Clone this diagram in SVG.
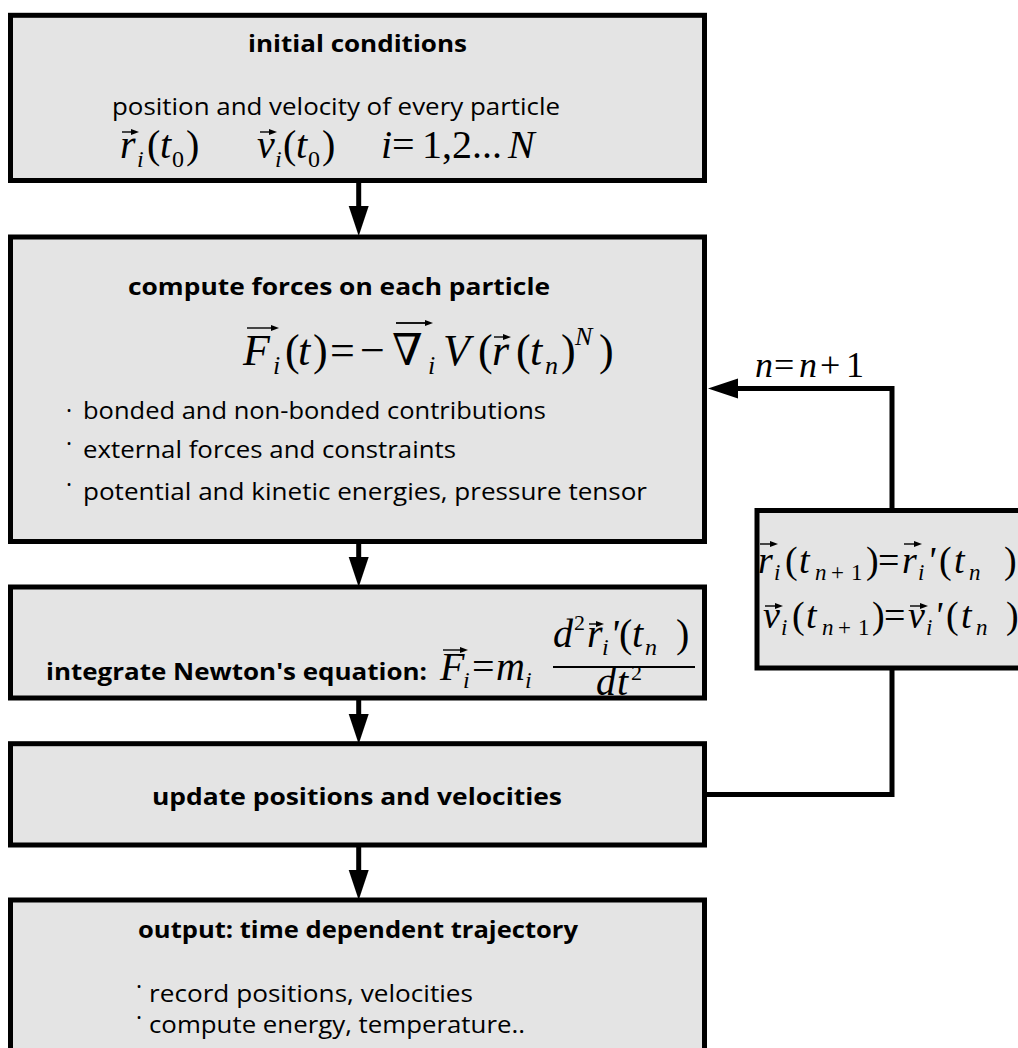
<svg xmlns="http://www.w3.org/2000/svg" width="1018" height="1048" viewBox="0 0 1018 1048">
<style>
.box{fill:#e4e4e4;stroke:#000;stroke-width:5}
.h{font-family:"Open Sans","Liberation Sans",sans-serif;font-weight:700;font-size:23px;fill:#000}
.t{font-family:"Open Sans","Liberation Sans",sans-serif;font-size:23px;fill:#000}
.m{font-family:"Liberation Serif","DejaVu Serif",serif;fill:#000}
.i{font-style:italic}
.conn{fill:none;stroke:#000;stroke-width:5}
.vec{stroke:#000;stroke-width:1.4;fill:none}
.bar{stroke:#000;stroke-width:2}
</style>
<defs>
<marker id="ah" markerUnits="userSpaceOnUse" markerWidth="30" markerHeight="22" viewBox="0 0 30 22" refX="0" refY="11" orient="auto">
<path d="M0,1 L30,11 L0,21 z" fill="#000"/>
</marker>
<marker id="vh" markerUnits="userSpaceOnUse" markerWidth="8" markerHeight="6" viewBox="0 0 8 6" refX="0" refY="3" orient="auto">
<path d="M0,0 L8,3 L0,6 z" fill="#000"/>
</marker>
</defs>

<g id="connectors">
<line class="conn" x1="358.7" y1="181" x2="358.7" y2="206" marker-end="url(#ah)"/>
<line class="conn" x1="358.7" y1="542" x2="358.7" y2="557" marker-end="url(#ah)"/>
<line class="conn" x1="358.7" y1="698" x2="358.7" y2="714" marker-end="url(#ah)"/>
<line class="conn" x1="358.7" y1="845" x2="358.7" y2="870" marker-end="url(#ah)"/>
<path class="conn" d="M705,794.5 H892 V668"/>
<path class="conn" d="M892,510 V388.5 H738" marker-end="url(#ah)"/>
<text id="label-n" class="m" style="font-size:36px"><tspan x="755" y="377" class="i">n</tspan><tspan x="774" y="377">=</tspan><tspan x="799" y="377" class="i">n</tspan><tspan x="820" y="377">+</tspan><tspan x="846" y="377">1</tspan></text>
</g>

<g id="initial">
<rect class="box" x="10.5" y="15.3" width="694" height="165.2"/>
<text class="h" x="248" y="52" textLength="219" lengthAdjust="spacingAndGlyphs">initial conditions</text>
<text class="t" x="112" y="115" textLength="448" lengthAdjust="spacingAndGlyphs">position and velocity of every particle</text>
<text class="m" style="font-size:40px"><tspan x="120" y="158" class="i">r</tspan><tspan x="137" y="167" class="i" style="font-size:24px">i</tspan><tspan x="147" y="158">(</tspan><tspan x="160" y="158" class="i">t</tspan><tspan x="172" y="167" style="font-size:24px">0</tspan><tspan x="186" y="158">)</tspan><tspan x="257" y="158" class="i">v</tspan><tspan x="275" y="167" class="i" style="font-size:24px">i</tspan><tspan x="283" y="158">(</tspan><tspan x="296" y="158" class="i">t</tspan><tspan x="308" y="167" style="font-size:24px">0</tspan><tspan x="322" y="158">)</tspan><tspan x="381" y="158" class="i">i</tspan><tspan x="392" y="158">=</tspan><tspan x="422" y="158">1,2...</tspan><tspan x="508" y="158" class="i">N</tspan></text>
<line class="vec" x1="122" y1="132" x2="131" y2="132" marker-end="url(#vh)"/>
<line class="vec" x1="260" y1="132" x2="269" y2="132" marker-end="url(#vh)"/>
</g>

<g id="forces">
<rect class="box" x="10.5" y="237" width="694" height="304.5"/>
<text class="h" x="128" y="295" textLength="422" lengthAdjust="spacingAndGlyphs">compute forces on each particle</text>
<text class="m" style="font-size:44px"><tspan x="243" y="365" class="i">F</tspan><tspan x="273" y="374" class="i" style="font-size:26px">i</tspan><tspan x="285" y="365">(</tspan><tspan x="298" y="365" class="i">t</tspan><tspan x="313" y="365">)</tspan><tspan x="330" y="365">=</tspan><tspan x="360" y="365">−</tspan><tspan x="392" y="365">∇</tspan><tspan x="428" y="374" class="i" style="font-size:26px">i</tspan><tspan x="443" y="365" class="i">V</tspan><tspan x="478" y="365">(</tspan><tspan x="492" y="365" class="i">r</tspan><tspan x="516" y="365">(</tspan><tspan x="530" y="365" class="i">t</tspan><tspan x="545" y="374" class="i" style="font-size:26px">n</tspan><tspan x="561" y="365">)</tspan><tspan x="575" y="345" class="i" style="font-size:26px">N</tspan><tspan x="599" y="365">)</tspan></text>
<line class="vec" x1="247" y1="328" x2="271" y2="328" marker-end="url(#vh)"/>
<line class="vec" x1="396" y1="323" x2="425" y2="323" style="stroke-width:1.8" marker-end="url(#vh)"/>
<line class="vec" x1="494" y1="337" x2="503" y2="337" marker-end="url(#vh)"/>
<text class="t" x="66" y="419">·</text>
<text class="t" x="83" y="419" textLength="463" lengthAdjust="spacingAndGlyphs">bonded and non-bonded contributions</text>
<text class="t" x="66" y="452">·</text>
<text class="t" x="83" y="458" textLength="373" lengthAdjust="spacingAndGlyphs">external forces and constraints</text>
<text class="t" x="66" y="493">·</text>
<text class="t" x="83" y="500" textLength="564" lengthAdjust="spacingAndGlyphs">potential and kinetic energies, pressure tensor</text>
</g>

<g id="integrate">
<rect class="box" x="10.5" y="587" width="694" height="111"/>
<text class="h" x="46" y="680" textLength="381" lengthAdjust="spacingAndGlyphs">integrate Newton's equation:</text>
<text class="m" style="font-size:40px"><tspan x="440" y="680" class="i">F</tspan><tspan x="463" y="688" class="i" style="font-size:24px">i</tspan><tspan x="472" y="680">=</tspan><tspan x="496" y="680" class="i">m</tspan><tspan x="525" y="688" class="i" style="font-size:24px">i</tspan><tspan x="553" y="647" class="i">d</tspan><tspan x="574" y="630" style="font-size:22px">2</tspan><tspan x="587" y="647" class="i">r</tspan><tspan x="602" y="655" class="i" style="font-size:24px">i</tspan><tspan x="610" y="647" class="i">'</tspan><tspan x="619" y="647">(</tspan><tspan x="632" y="647" class="i">t</tspan><tspan x="645" y="655" class="i" style="font-size:24px">n</tspan><tspan x="676" y="647">)</tspan><tspan x="596" y="695" class="i">d</tspan><tspan x="617" y="695" class="i">t</tspan><tspan x="631" y="680" style="font-size:22px">2</tspan></text>
<line class="bar" x1="553" y1="667" x2="695" y2="667"/>
<line class="vec" x1="443" y1="650" x2="460" y2="650" marker-end="url(#vh)"/>
<line class="vec" x1="589" y1="624" x2="596" y2="624" marker-end="url(#vh)"/>
</g>

<g id="update">
<rect class="box" x="10.5" y="743.7" width="694" height="101.3"/>
<text class="h" x="152" y="805" textLength="410" lengthAdjust="spacingAndGlyphs">update positions and velocities</text>
</g>

<g id="output">
<rect class="box" x="10.5" y="900" width="694" height="170"/>
<text class="h" x="138" y="938" textLength="440" lengthAdjust="spacingAndGlyphs">output: time dependent trajectory</text>
<text class="t" x="136" y="995">·</text>
<text class="t" x="149" y="1002" textLength="324" lengthAdjust="spacingAndGlyphs">record positions, velocities</text>
<text class="t" x="136" y="1026">·</text>
<text class="t" x="149" y="1033" textLength="376" lengthAdjust="spacingAndGlyphs">compute energy, temperature..</text>
</g>

<g id="update-rule">
<rect class="box" x="757" y="510.5" width="280" height="157.5"/>
<text class="m" style="font-size:38px"><tspan x="758" y="573" class="i">r</tspan><tspan x="774" y="580" class="i" style="font-size:23px">i</tspan><tspan x="785" y="573">(</tspan><tspan x="799" y="573" class="i">t</tspan><tspan x="815" y="580" class="i" style="font-size:23px">n</tspan><tspan x="831" y="580" style="font-size:23px">+</tspan><tspan x="851" y="580" style="font-size:23px">1</tspan><tspan x="866" y="573">)</tspan><tspan x="878" y="573">=</tspan><tspan x="902" y="573" class="i">r</tspan><tspan x="918" y="580" class="i" style="font-size:23px">i</tspan><tspan x="927" y="573" class="i">'</tspan><tspan x="939" y="573">(</tspan><tspan x="954" y="573" class="i">t</tspan><tspan x="969" y="580" class="i" style="font-size:23px">n</tspan><tspan x="1004" y="573">)</tspan><tspan x="763" y="628" class="i">v</tspan><tspan x="781" y="635" class="i" style="font-size:23px">i</tspan><tspan x="792" y="628">(</tspan><tspan x="806" y="628" class="i">t</tspan><tspan x="822" y="635" class="i" style="font-size:23px">n</tspan><tspan x="838" y="635" style="font-size:23px">+</tspan><tspan x="858" y="635" style="font-size:23px">1</tspan><tspan x="872" y="628">)</tspan><tspan x="884" y="628">=</tspan><tspan x="908" y="628" class="i">v</tspan><tspan x="926" y="635" class="i" style="font-size:23px">i</tspan><tspan x="934" y="628" class="i">'</tspan><tspan x="946" y="628">(</tspan><tspan x="961" y="628" class="i">t</tspan><tspan x="976" y="635" class="i" style="font-size:23px">n</tspan><tspan x="1006" y="628">)</tspan></text>
<line class="vec" x1="760" y1="544" x2="770" y2="544" marker-end="url(#vh)"/>
<line class="vec" x1="904" y1="544" x2="914" y2="544" marker-end="url(#vh)"/>
<line class="vec" x1="765" y1="606" x2="775" y2="606" marker-end="url(#vh)"/>
<line class="vec" x1="910" y1="606" x2="920" y2="606" marker-end="url(#vh)"/>
</g>
</svg>
